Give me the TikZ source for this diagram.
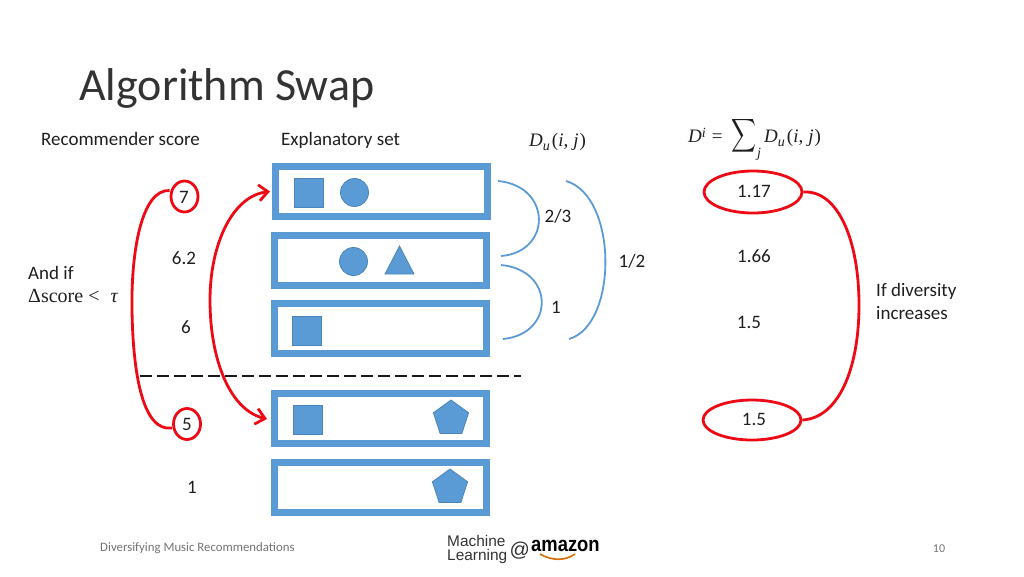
\documentclass[tikz,border=0pt]{standalone}
\usepackage{fontspec}
\usepackage{graphicx}
\usepackage{amsmath}
\setmainfont{Carlito}
\newfontfamily\logofont{Liberation Sans}
\newfontfamily\mathtxt{Liberation Serif}
\newcommand{\mvar}[1]{{\mathtxt\itshape #1}}
\newcommand{\msub}[1]{\raisebox{-4pt}{\fontsize{14}{14}\selectfont\mathtxt\itshape #1}}
\newcommand{\dform}{\mvar{D}\msub{u}\hspace{2pt}{\mathtxt(}\mvar{i}{\mathtxt,}\hspace{5pt}\mvar{j}\hspace{1pt}{\mathtxt)}}
\usetikzlibrary{shapes.geometric,arrows.meta}
\definecolor{bluefill}{HTML}{5B9BD5}
\definecolor{blueedge}{HTML}{4A86BC}
\definecolor{redline}{HTML}{EE0A14}
\tikzset{
  txt/.style={font=\fontsize{19}{22}\selectfont,text=black!88,inner sep=0pt},
  frm/.style={draw=bluefill,line width=7pt,fill=white,minimum width=212pt,minimum height=50pt,inner sep=0pt,outer sep=3.5pt},
  sqr/.style={draw=blueedge,line width=.8pt,fill=bluefill,minimum size=29pt,inner sep=0pt},
  circ/.style={circle,draw=blueedge,line width=.8pt,fill=bluefill,minimum size=28pt,inner sep=0pt},
  shp/.style={draw=blueedge,line width=.8pt,fill=bluefill},
  pent/.style={regular polygon,regular polygon sides=5,draw=blueedge,line width=.8pt,fill=bluefill,minimum size=37pt,inner sep=0pt},
  arcline/.style={draw=bluefill,line width=1.8pt},
  redring/.style={ellipse,draw=redline,line width=2.8pt,inner sep=0pt},
  redcurve/.style={draw=redline,line width=2.8pt},
  redarrow/.style={redcurve,{Straight Barb[length=9pt,width=16pt,line width=2.8pt]}-{Straight Barb[length=9pt,width=16pt,line width=2.8pt]}},
}
\begin{document}
\begin{tikzpicture}[x=1pt,y=-1pt]
\useasboundingbox (0,0) rectangle (1024,576);
\node[anchor=base west,inner sep=0pt,text=black!80,font=\fontsize{46}{52}\selectfont] (title) at (79,100) {Algorithm Swap};
\node[txt,anchor=base west] (h1) at (41,145) {Recommender score};
\node[txt,anchor=base west] (h2) at (281,145) {Explanatory set};
\node[txt,anchor=base west] (h3) at (529,146) {\dform};
\node[txt,anchor=base west] (h4a) at (688,142) {\mvar{D}\raisebox{5pt}{\fontsize{14}{14}\selectfont\mathtxt\itshape i}\hspace{6pt}{\mathtxt=}};
\node[txt] (h4s) at (744,135.5) {\scalebox{1}[1.35]{$\displaystyle\sum$}};
\node[txt,anchor=base,font=\fontsize{14}{14}\selectfont] (h4j) at (759,157) {\mathtxt\itshape j};
\node[txt,anchor=base west] (h4b) at (764,142) {\dform};

\node[frm] (f1) at (381.5,191.5) {};
\node[frm] (f2) at (380.5,260.5) {};
\node[frm] (f3) at (380.5,328.5) {};
\node[frm] (f4) at (380.5,418.5) {};
\node[frm] (f5) at (380,487.5) {};

\node[sqr] (s1) at (308.5,192.5) {};
\node[circ] (c1) at (354.5,192.5) {};
\node[circ] (c2) at (353.5,261.5) {};
\draw[shp] (399.5,246) -- (414,274) -- (385,274) -- cycle;
\node[sqr] (s3) at (306.5,330.5) {};
\node[sqr] (s4) at (307.5,419.5) {};
\node[pent] (p4) at (451,418.5) {};
\node[pent] (p5) at (450,487.5) {};

\node[txt] (n1) at (184,197) {7};
\node[txt] (n2) at (184,258) {6.2};
\node[txt] (n3) at (186,327) {6};
\node[txt] (n4) at (187,424) {5};
\node[txt] (n5) at (192,487) {1};
\node[redring,minimum width=27pt,minimum height=31pt] (r1) at (184.5,196.5) {};
\node[redring,minimum width=27pt,minimum height=31pt] (r4) at (187,424) {};

\node[txt,anchor=base west] (andif) at (28,279) {And if};
\node[txt,anchor=base west] (delta) at (28,302) {{\mathtxt\fontsize{20}{22}\selectfont Δscore\hspace{5pt}<\hspace{11pt}\itshape τ}};

\coordinate (a1) at (498,181); \coordinate (a2) at (501,256);
\coordinate (b1) at (501,265); \coordinate (b2) at (503,339);
\coordinate (d1) at (566,181); \coordinate (d2) at (569,339);
\draw[arcline] (a1) .. controls (552,186) and (552,252) .. (a2);
\draw[arcline] (b1) .. controls (555,270) and (555,334) .. (b2);
\draw[arcline] (d1) .. controls (618,196) and (618,325) .. (d2);
\node[txt] (l1) at (558,216) {2/3};
\node[txt] (l2) at (632,261) {1/2};
\node[txt] (l3) at (556,307) {1};

\node[txt] (v1) at (754,191) {1.17};
\node[txt] (v2) at (754,256) {1.66};
\node[txt] (v3) at (749,322) {1.5};
\node[txt] (v4) at (754,419) {1.5};
\node[redring,minimum width=98pt,minimum height=42pt] (e1) at (753,192) {};
\node[redring,minimum width=98pt,minimum height=40pt] (e4) at (752,420) {};

\node[txt,anchor=base west] (if1) at (876,296) {If diversity};
\node[txt,anchor=base west] (if2) at (876,319) {increases};

\coordinate (ds) at (140,376); \coordinate (de) at (521,376);
\draw[line width=2.4pt,black!90,dash pattern=on 12pt off 5pt] (ds) -- (de);

\draw[redcurve] (r1.west) ++(0,-6) .. controls (142,189) and (131,250) .. (132,310) .. controls (133,375) and (143,432) .. (172,428);
\draw[redarrow] (f1.west) ++(-2,0) .. controls (232,196) and (210,245) .. (210,300) .. controls (210,360) and (230,410) .. (267,419);
\draw[redcurve] (e1.east) .. controls (838,190) and (859,240) .. (859,305) .. controls (859,370) and (838,418) .. (e4.east);

\node[anchor=base west,inner sep=0pt,text=black!55,font=\fontsize{12.8}{15}\selectfont] (foot) at (100,551) {Diversifying Music Recommendations};
\node[inner sep=0pt,text=black!55,font=\fontsize{12}{14}\selectfont] (page) at (939,549) {10};

\node[anchor=base west,inner sep=0pt,text=black!80,font=\fontsize{15.4}{16}\selectfont\logofont] (lg1) at (447,546) {Machine};
\node[anchor=base west,inner sep=0pt,text=black!80,font=\fontsize{15.4}{16}\selectfont\logofont] (lg1b) at (447,560) {Learning};
\node[anchor=base west,inner sep=0pt,text=black!80,font=\fontsize{20}{24}\selectfont\logofont] (lg2) at (509.5,556) {@};
\node[anchor=base west,inner sep=0pt,font=\fontsize{20}{20}\selectfont\logofont\bfseries] (lg3) at (531,551) {\scalebox{.92}[1.05]{amazon}};
\coordinate (sm1) at (540,554); \coordinate (sm2) at (575,554);
\draw[line width=1.6pt,orange!85!black] (sm1) .. controls (552,561) and (565,561) .. (sm2);
\end{tikzpicture}
\end{document}
